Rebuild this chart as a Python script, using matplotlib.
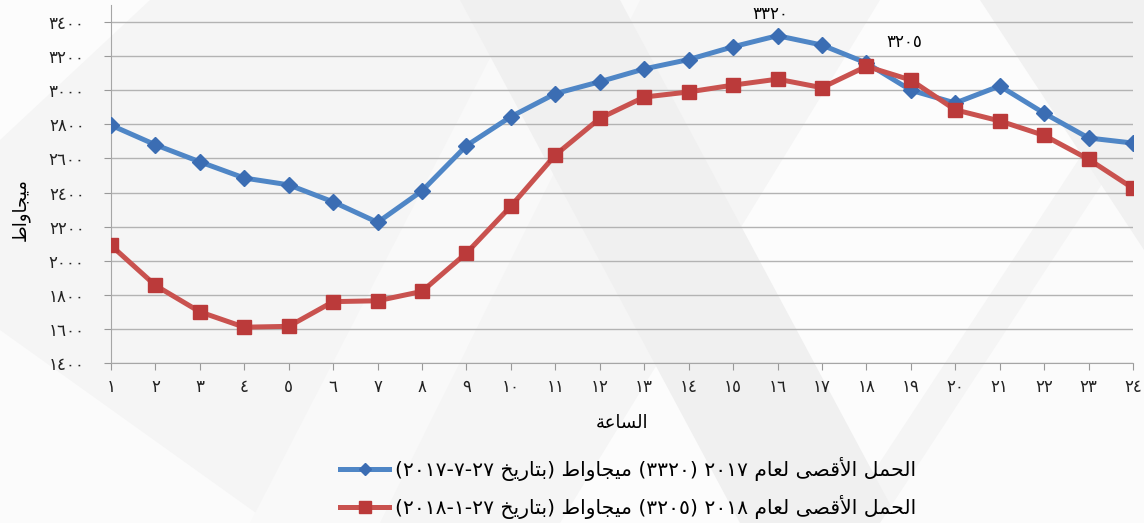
import matplotlib
matplotlib.use("Agg")
import matplotlib.pyplot as plt
from matplotlib.patches import Polygon
from matplotlib.lines import Line2D

# ====== DATA ======
hours = list(range(1, 25))
load_2017 = [2795, 2680, 2580, 2485, 2445, 2345, 2225, 2410, 2675, 2845,
             2980, 3050, 3125, 3180, 3255, 3320, 3265, 3160, 3000, 2925,
             3025, 2865, 2720, 2690]
load_2018 = [2090, 1855, 1700, 1610, 1615, 1760, 1765, 1820, 2045, 2320,
             2620, 2835, 2960, 2990, 3030, 3065, 3015, 3140, 3060, 2885,
             2820, 2735, 2595, 2425]
y_ticks = list(range(1400, 3401, 200))

label_2017 = "الحمل الأقصى لعام ٢٠١٧ (٣٣٢٠) ميجاواط (بتاريخ ٢٧-٧-٢٠١٧)"
label_2018 = "الحمل الأقصى لعام ٢٠١٨ (٣٢٠٥) ميجاواط (بتاريخ ٢٧-١-٢٠١٨)"
x_title = "الساعة"
y_title = "ميجاواط"
peak_2017 = "٣٣٢٠"
peak_2018 = "٣٢٠٥"

# ====== ARABIC SHAPING (matplotlib has no shaping/bidi) ======
# letter: (isolated, final, initial, medial)
FORMS = {
    "ا": ("\uFE8D", "\uFE8E", None, None),
    "أ": ("\uFE83", "\uFE84", None, None),
    "ب": ("\uFE8F", "\uFE90", "\uFE91", "\uFE92"),
    "ة": ("\uFE93", "\uFE94", None, None),
    "ت": ("\uFE95", "\uFE96", "\uFE97", "\uFE98"),
    "ج": ("\uFE9D", "\uFE9E", "\uFE9F", "\uFEA0"),
    "ح": ("\uFEA1", "\uFEA2", "\uFEA3", "\uFEA4"),
    "خ": ("\uFEA5", "\uFEA6", "\uFEA7", "\uFEA8"),
    "ر": ("\uFEAD", "\uFEAE", None, None),
    "س": ("\uFEB1", "\uFEB2", "\uFEB3", "\uFEB4"),
    "ص": ("\uFEB9", "\uFEBA", "\uFEBB", "\uFEBC"),
    "ط": ("\uFEC1", "\uFEC2", "\uFEC3", "\uFEC4"),
    "ع": ("\uFEC9", "\uFECA", "\uFECB", "\uFECC"),
    "ق": ("\uFED5", "\uFED6", "\uFED7", "\uFED8"),
    "ل": ("\uFEDD", "\uFEDE", "\uFEDF", "\uFEE0"),
    "م": ("\uFEE1", "\uFEE2", "\uFEE3", "\uFEE4"),
    "و": ("\uFEED", "\uFEEE", None, None),
    "ى": ("\uFEEF", "\uFEF0", None, None),
    "ي": ("\uFEF1", "\uFEF2", "\uFEF3", "\uFEF4"),
}
LAM_ALEF = {"ا": ("\uFEFB", "\uFEFC"), "أ": ("\uFEF7", "\uFEF8")}


def joins_next(c):
    return c in FORMS and FORMS[c][2] is not None


def shape(s):
    out = []
    i = 0
    while i < len(s):
        c = s[i]
        prev = s[i - 1] if i > 0 else ""
        jp = joins_next(prev)
        if c == "ل" and i + 1 < len(s) and s[i + 1] in LAM_ALEF:
            out.append(LAM_ALEF[s[i + 1]][1 if jp else 0])
            i += 2
            continue
        if c in FORMS:
            nxt = s[i + 1] if i + 1 < len(s) else ""
            jn = joins_next(c) and nxt in FORMS
            iso, fin, ini, med = FORMS[c]
            if jp and jn:
                out.append(med)
            elif jp:
                out.append(fin)
            elif jn:
                out.append(ini)
            else:
                out.append(iso)
        else:
            out.append(c)
        i += 1
    return "".join(out)


def ar(s):
    """Shape and reorder an RTL string into visual order."""
    s = shape(s)
    tokens, cur, cur_digit = [], "", None
    for c in s:
        d = c.isdigit()
        if cur and (d != cur_digit or not d):
            tokens.append(cur)
            cur = ""
        cur += c
        cur_digit = d
    if cur:
        tokens.append(cur)
    swap = {"(": ")", ")": "("}
    vis = []
    for t in reversed(tokens):
        if t[0].isdigit():
            vis.append(t)
        else:
            vis.append("".join(swap.get(c, c) for c in reversed(t)))
    return "".join(vis)


def ar_num(n):
    return "".join(chr(0x0660 + int(d)) for d in str(n))


# ====== FIGURE ======
W, H = 1144, 523
fig = plt.figure(figsize=(W / 100, H / 100), dpi=100)
fig.patch.set_facecolor("#f5f5f5")

# soft diagonal background shapes, in an axes of their own behind the chart
bg = fig.add_axes([0, 0, 1, 1], zorder=-5)
bg.set_xlim(0, W)
bg.set_ylim(H, 0)
bg.axis("off")
shapes = [
    ([(0, 523), (0, 330), (270, 523)], "#fbfbfb"),
    ([(0, 0), (150, 0), (0, 140)], "#fcfcfc"),
    ([(250, 523), (520, 0), (640, 0), (380, 523)], "#f9f9f9"),
    ([(560, 523), (880, 0), (1144, 0), (1144, 60), (840, 523)], "#fcfcfc"),
    ([(460, 0), (620, 0), (900, 523), (740, 523)], "#f0f0f0"),
    ([(880, 523), (1144, 120), (1144, 523)], "#fbfbfb"),
    ([(980, 0), (1144, 0), (1144, 250)], "#f1f1f1"),
]
for pts, col in shapes:
    bg.add_patch(Polygon(pts, closed=True, facecolor=col, edgecolor="none"))

ax = fig.add_axes([111 / W, 160 / H, (1133 - 111) / W, (518 - 160) / H])
ax.set_facecolor("none")

blue_line, blue_mark = "#4f86c6", "#3b6db3"
red_line, red_mark = "#c9524f", "#bb3a3a"

ax.plot(hours, load_2017, color=blue_line, lw=3.6, marker="D", ms=8,
        mfc=blue_mark, mec=blue_mark, zorder=3)
ax.plot(hours, load_2018, color=red_line, lw=3.6, marker="s", ms=10,
        mfc=red_mark, mec=red_mark, zorder=4)

ax.set_xlim(1, 24)
ax.set_ylim(1400, 3500)
ax.set_yticks(y_ticks)
ax.set_yticklabels([ar_num(v) for v in y_ticks], fontsize=12)
ax.set_xticks(hours)
ax.set_xticklabels([ar_num(h) for h in hours], fontsize=12)
ax.tick_params(axis="y", length=5, pad=14, color="#999999", labelcolor="#222222")
ax.tick_params(axis="x", length=5, pad=6, color="#999999", labelcolor="#222222")
ax.grid(axis="y", color="#b3b3b3", lw=1)
ax.set_axisbelow(True)
for side in ["top", "right"]:
    ax.spines[side].set_visible(False)
for side in ["left", "bottom"]:
    ax.spines[side].set_color("#a6a6a6")

# peak labels
i17 = load_2017.index(max(load_2017))
ax.annotate(peak_2017, (hours[i17], load_2017[i17]), xytext=(-5, 9),
            textcoords="offset points", ha="center", va="bottom", fontsize=12)
i18 = load_2018.index(max(load_2018))
ax.annotate(peak_2018, (hours[i18], load_2018[i18]), xytext=(27, 11),
            textcoords="offset points", ha="center", va="bottom", fontsize=12)

fig.text(622 / W, 1 - 423 / H, ar(x_title), ha="center", va="center", fontsize=13)
fig.text(20 / W, 1 - 210 / H, ar(y_title), ha="center", va="center",
         rotation=90, fontsize=13)

handles = [
    Line2D([], [], color=blue_line, lw=3.6, marker="D", ms=6,
           mfc=blue_mark, mec=blue_mark),
    Line2D([], [], color=red_line, lw=3.6, marker="s", ms=8,
           mfc=red_mark, mec=red_mark),
]
fig.legend(handles, [ar(label_2017), ar(label_2018)], loc="upper left",
           bbox_to_anchor=(322 / W, 1 - 439 / H), frameon=False, fontsize=14.6,
           handlelength=2.4, handletextpad=0.3, labelspacing=0.68)

fig.savefig("out.png", dpi=100, facecolor=fig.get_facecolor())
